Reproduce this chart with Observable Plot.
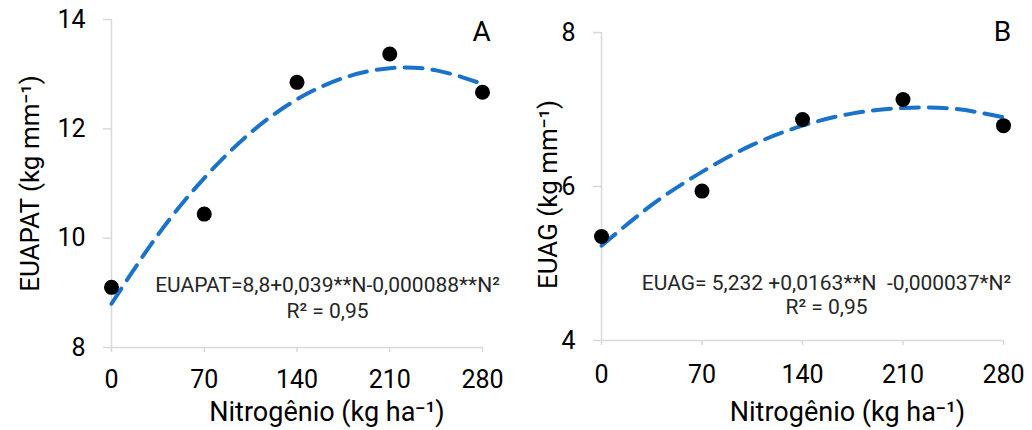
<!DOCTYPE html>
<html><head><meta charset="utf-8">
<script src="https://cdn.jsdelivr.net/npm/d3@7"></script>
<script src="https://cdn.jsdelivr.net/npm/@observablehq/plot@0.6"></script>
<style>
body{margin:0;background:#fff;}
#wrap{position:relative;width:1032px;height:430px;font-family:Roboto,sans-serif;}
#wrap svg{position:absolute;top:0;}
g[aria-label="y-axis tick"], g[aria-label="x-axis tick"]{stroke:#d9d9d9;stroke-width:1.5;}
</style></head><body><div id="wrap"></div>
<script>
// Data
const nitrogen = [0, 70, 140, 210, 280];
const euapat = [9.10, 10.44, 12.85, 13.37, 12.67];
const euag = [5.35, 5.94, 6.87, 7.13, 6.79];
const trendN = [0, 35, 70, 105, 140, 175, 210, 245, 280];
const euapatTrend = [8.80, 10.06, 11.10, 11.93, 12.54, 12.93, 13.11, 13.07, 12.82];
const euagTrend = [5.23, 5.76, 6.19, 6.54, 6.79, 6.95, 7.02, 7.01, 6.90];
const xTicks = [0, 70, 140, 210, 280];
const yTicksA = [8, 10, 12, 14];
const yTicksB = [4, 6, 8];
const xTitle = "Nitrogênio (kg ha⁻¹)";
const yTitleA = "EUAPAT (kg mm⁻¹)";
const yTitleB = "EUAG (kg mm⁻¹)";
const eqA = "EUAPAT=8,8+0,039**N-0,000088**N²";
const eqB = "EUAG= 5,232 +0,0163**N  -0,000037*N²";
const r2A = "R² = 0,95";
const r2B = "R² = 0,95";

function panel(o) {
  const pts = nitrogen.map((n, i) => ({n, v: o.values[i]}));
  const tr = trendN.map((n, i) => ({n, v: o.trend[i]}));
  return Plot.plot({
    width: 516, height: 430,
    marginLeft: o.ml, marginRight: o.mr, marginTop: o.mt, marginBottom: o.mb,
    style: {fontFamily: "Roboto, sans-serif", fontSize: "25px", color: "black", background: "transparent", overflow: "visible"},
    x: {domain: [0, 280]},
    y: {domain: o.yDomain},
    marks: [
      Plot.ruleY([o.yDomain[0]], {stroke: "#d9d9d9", strokeWidth: 1.5}),
      Plot.ruleX([0], {stroke: "#d9d9d9", strokeWidth: 1.5}),
      Plot.axisY({ticks: o.yTicks, tickSize: 8, tickPadding: 18, label: null, fontSize: 25, tickFormat: d => String(d)}),
      Plot.axisX({ticks: xTicks, tickSize: 5, tickPadding: o.xPad, label: null, fontSize: 25, tickFormat: d => String(d)}),
      Plot.line(tr, {x: "n", y: "v", stroke: "#1a73c8", strokeWidth: 4, strokeDasharray: "18,10", curve: "natural"}),
      Plot.dot(pts, {x: "n", y: "v", r: 7.5, fill: "black"}),
      Plot.text([o.yTitle], {text: d => d, frameAnchor: "left", textAnchor: "middle", lineAnchor: "middle", rotate: -90, dx: o.yTitleDx, dy: o.yTitleDy, fontSize: 26, fill: "black"}),
      Plot.text([xTitle], {text: d => d, frameAnchor: "bottom", textAnchor: "middle", lineAnchor: "middle", dx: o.xTitleDx, dy: o.xTitleDy, fontSize: 27, fill: "black"}),
      Plot.text([o.eq], {text: d => d, frameAnchor: "bottom-right", textAnchor: "middle", lineAnchor: "middle", dx: o.eqDx, dy: o.eqDy, fontSize: 21, fill: "#262626"}),
      Plot.text([o.r2], {text: d => d, frameAnchor: "bottom-right", textAnchor: "middle", lineAnchor: "middle", dx: o.eqDx, dy: o.r2Dy, fontSize: 21, fill: "#262626"}),
      Plot.text([o.letter], {text: d => d, frameAnchor: "top-right", textAnchor: "middle", lineAnchor: "middle", dx: -1, dy: o.letterDy, fontSize: 28, fill: "black"})
    ]
  });
}

const wrap = document.getElementById("wrap");
const a = panel({
  ml: 111, mr: 34, mt: 19, mb: 83, yDomain: [8, 14], yTicks: yTicksA,
  values: euapat, trend: euapatTrend, yTitle: yTitleA, eq: eqA, r2: r2A, letter: "A",
  xPad: 18, yTitleDx: -81, yTitleDy: 0, xTitleDx: 30, xTitleDy: 65,
  eqDx: -155, eqDy: -62, r2Dy: -36, letterDy: 13
});
a.style.left = "0px";
const b = panel({
  ml: 85, mr: 29, mt: 32, mb: 90, yDomain: [4, 8], yTicks: yTicksB,
  values: euag, trend: euagTrend, yTitle: yTitleB, eq: eqB, r2: r2B, letter: "B",
  xPad: 20, yTitleDx: -53, yTitleDy: 8, xTitleDx: 45, xTitleDy: 72,
  eqDx: -177, eqDy: -57, r2Dy: -33, letterDy: 0
});
b.style.left = "516px";
wrap.appendChild(a);
wrap.appendChild(b);
</script></body></html>
